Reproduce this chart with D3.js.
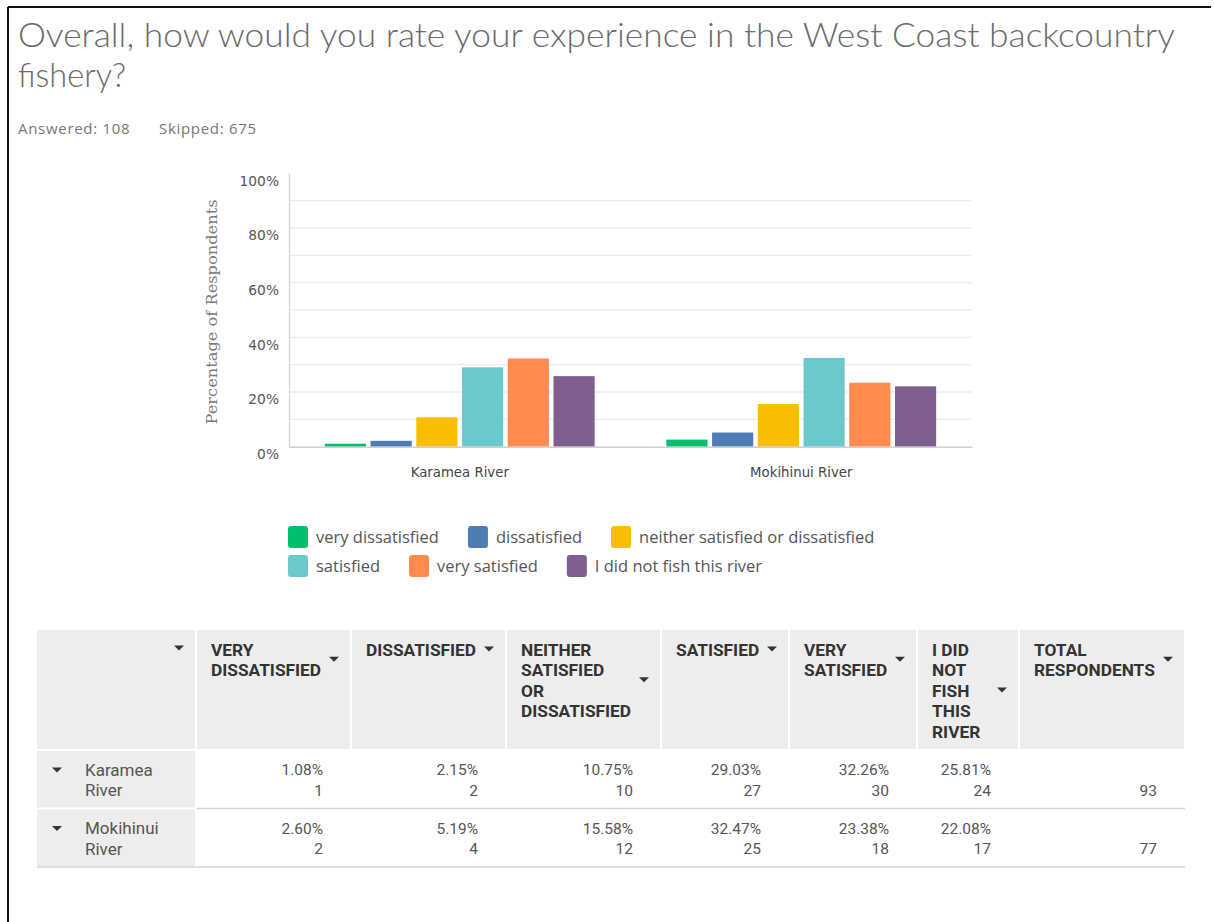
<!DOCTYPE html>
<html><head><meta charset="utf-8">
<script src="https://cdn.jsdelivr.net/npm/d3@7"></script>
<style>body{margin:0;background:#fff} svg{display:block}</style>
</head><body><svg id="c" width="1214" height="922"></svg>
<script>
const categories = ["Karamea River", "Mokihinui River"];
const seriesNames = ["very dissatisfied", "dissatisfied", "neither satisfied or dissatisfied", "satisfied", "very satisfied", "I did not fish this river"];
const seriesColors = ["#00bf6f", "#507cb6", "#f9be00", "#6bc8cd", "#ff8b4f", "#7f5f90"];
const karameaPct = [1.08, 2.15, 10.75, 29.03, 32.26, 25.81];
const mokihinuiPct = [2.60, 5.19, 15.58, 32.47, 23.38, 22.08];
const karameaCount = [1, 2, 10, 27, 30, 24];
const mokihinuiCount = [2, 4, 12, 25, 18, 17];
const totals = [93, 77];
const yTicks = [0, 20, 40, 60, 80, 100];
const gridTicks = [10, 20, 30, 40, 50, 60, 70, 80, 90];
const headerLines = [[], ["VERY", "DISSATISFIED"], ["DISSATISFIED"], ["NEITHER", "SATISFIED", "OR", "DISSATISFIED"], ["SATISFIED"], ["VERY", "SATISFIED"], ["I DID", "NOT", "FISH", "THIS", "RIVER"], ["TOTAL", "RESPONDENTS"]];
const rowLabelLines = [["Karamea", "River"], ["Mokihinui", "River"]];
const titleLines = ["Overall, how would you rate your experience in the West Coast backcountry", "fishery?"];
const answered = 108, skipped = 675;

const pctRows = [karameaPct, mokihinuiPct];
const countRows = [karameaCount, mokihinuiCount];

const svg = d3.select("#c");

// frame
svg.append("line").attr("x1", 8).attr("x2", 1211).attr("y1", 7).attr("y2", 7).attr("stroke", "#111").attr("stroke-width", 2);
svg.append("line").attr("x1", 8).attr("x2", 8).attr("y1", 7).attr("y2", 922).attr("stroke", "#111").attr("stroke-width", 2);

// title
svg.append("g").selectAll("text").data(titleLines).join("text")
  .attr("x", 18).attr("y", (d, i) => 47 + i * 40)
  .attr("font-family", "Lato, sans-serif").attr("font-weight", 300)
  .attr("font-size", 32.5).attr("fill", "#6a6a6a")
  .each(function (d, i) { if (i === 0) d3.select(this).attr("textLength", 1157).attr("lengthAdjust", "spacingAndGlyphs"); })
  .text(d => d);

svg.append("text").attr("x", 18).attr("y", 134).attr("font-family", "'Open Sans', sans-serif")
  .attr("font-size", 15).attr("letter-spacing", 0.7).attr("fill", "#777").text("Answered: " + answered);
svg.append("text").attr("x", 159).attr("y", 134).attr("font-family", "'Open Sans', sans-serif")
  .attr("font-size", 15).attr("letter-spacing", 0.7).attr("fill", "#777").text("Skipped: " + skipped);

// chart
const plot = {left: 289, right: 972, top: 173.3, bottom: 446.7};
const y = d3.scaleLinear().domain([0, 100]).range([plot.bottom, plot.top]);
const x0 = d3.scaleBand().domain(categories).range([plot.left, plot.right]).paddingInner(0.21).paddingOuter(0.105);
const x1 = d3.scaleBand().domain(seriesNames).range([0, x0.bandwidth()]).paddingInner(0.1).paddingOuter(0);
const color = d3.scaleOrdinal().domain(seriesNames).range(seriesColors);

const g = svg.append("g");
g.selectAll("line.grid").data(gridTicks).join("line").attr("class", "grid")
  .attr("x1", plot.left).attr("x2", plot.right).attr("y1", d => y(d)).attr("y2", d => y(d))
  .attr("stroke", "#ececec").attr("stroke-width", 1.3);

const yAxis = d3.axisLeft(y).tickValues(yTicks).tickSize(0).tickPadding(10).tickFormat(d => d + "%");
const ya = g.append("g").attr("transform", `translate(${plot.left},0)`).call(yAxis);
ya.select(".domain").attr("stroke", "#d6d6d6").attr("stroke-width", 1.3);
ya.selectAll("text").attr("dy", "0.85em").attr("y", 0).attr("font-family", "'DejaVu Sans', sans-serif").attr("font-size", 13.8).attr("fill", "#555");

const data = categories.map((c, i) => ({cat: c, vals: seriesNames.map((s, j) => ({s, v: pctRows[i][j]}))}));
g.selectAll("g.grp").data(data).join("g").attr("class", "grp")
  .attr("transform", d => `translate(${x0(d.cat)},0)`)
  .selectAll("rect").data(d => d.vals).join("rect")
  .attr("x", d => x1(d.s)).attr("width", x1.bandwidth())
  .attr("y", d => y(d.v)).attr("height", d => y(0) - y(d.v))
  .attr("fill", d => color(d.s));

const xAxis = d3.axisBottom(x0).tickSize(0).tickPadding(21);
const xa = g.append("g").attr("transform", `translate(0,${plot.bottom})`).call(xAxis);
xa.select(".domain").attr("stroke", "#cfcfcf").attr("stroke-width", 1.5);
xa.selectAll("text").attr("font-family", "'DejaVu Sans', sans-serif").attr("font-size", 13.3).attr("fill", "#444");

svg.append("text").attr("transform", "translate(217,312) rotate(-90)").attr("text-anchor", "middle")
  .attr("font-family", "'DejaVu Serif', serif").attr("font-size", 14).attr("fill", "#7a7a7a")
  .attr("textLength", 225).attr("lengthAdjust", "spacingAndGlyphs")
  .text("Percentage of Respondents");

// legend
const leg = svg.append("g");
const legStartX = 288, legMaxX = 900;
let lx = legStartX, ly = 526;
seriesNames.forEach((s, i) => {
  const item = leg.append("g");
  const t = item.append("text").attr("font-family", "'Open Sans', sans-serif").attr("font-size", 16.5)
    .attr("fill", "#555").text(s);
  const w = t.node().getComputedTextLength();
  const itemW = 28 + w;
  if (lx + itemW > legMaxX || i === 3) { lx = legStartX; ly += 29; }
  item.append("rect").attr("x", lx).attr("y", ly).attr("width", 20).attr("height", 22).attr("rx", 3)
    .attr("fill", color(s));
  t.attr("x", lx + 28).attr("y", ly + 17);
  lx += itemW + 29;
});

// table
const colEdges = [37, 196, 351, 506, 661, 789, 917, 1019, 1185];
const headTop = 630, headBottom = 750, rowH = 58.5;
const tbl = svg.append("g").attr("font-family", "Roboto, sans-serif");
const tri = (cx, cy) => `M${cx - 5},${cy - 2.5} L${cx + 5},${cy - 2.5} L${cx},${cy + 2.5} Z`;

headerLines.forEach((lines, c) => {
  const x0c = colEdges[c], x1c = colEdges[c + 1];
  tbl.append("rect").attr("x", x0c + (c ? 1 : 0)).attr("y", headTop).attr("width", x1c - x0c - (c ? 1 : 0) - 1)
    .attr("height", headBottom - headTop - 1).attr("fill", "#ecedec");
  lines.forEach((ln, k) => {
    tbl.append("text").attr("x", x0c + 15).attr("y", 655.5 + k * 20.5).attr("font-size", 17.3)
      .attr("font-weight", 700).attr("fill", "#333").text(ln);
  });
  const cy = lines.length ? 649 + (lines.length - 1) * 20.5 / 2 : 648;
  tbl.append("path").attr("d", tri(x1c - 17, cy)).attr("fill", "#333");
});

categories.forEach((cat, r) => {
  const top = headBottom + r * rowH;
  tbl.append("rect").attr("x", colEdges[0]).attr("y", top + 1).attr("width", colEdges[1] - colEdges[0] - 1)
    .attr("height", rowH - 2).attr("fill", "#ecedec");
  tbl.append("path").attr("d", tri(57, top + 20)).attr("fill", "#333");
  rowLabelLines[r].forEach((ln, k) => {
    tbl.append("text").attr("x", 85).attr("y", top + 25.5 + k * 20.5).attr("font-size", 17)
      .attr("fill", "#555").text(ln);
  });
  pctRows[r].forEach((v, j) => {
    const xr = colEdges[j + 2] - 28;
    tbl.append("text").attr("x", xr).attr("y", top + 25).attr("text-anchor", "end").attr("font-size", 15.5)
      .attr("fill", "#555").text(v.toFixed(2) + "%");
    tbl.append("text").attr("x", xr).attr("y", top + 45.5).attr("text-anchor", "end").attr("font-size", 15.5)
      .attr("fill", "#555").text(countRows[r][j]);
  });
  tbl.append("text").attr("x", colEdges[8] - 28).attr("y", top + 45.5).attr("text-anchor", "end").attr("font-size", 15.5)
    .attr("fill", "#555").text(totals[r]);
  tbl.append("line").attr("x1", r === 0 ? colEdges[1] : colEdges[0]).attr("x2", colEdges[8])
    .attr("y1", top + rowH).attr("y2", top + rowH).attr("stroke", "#d4d4d4").attr("stroke-width", 1.5);
});
</script></body></html>
